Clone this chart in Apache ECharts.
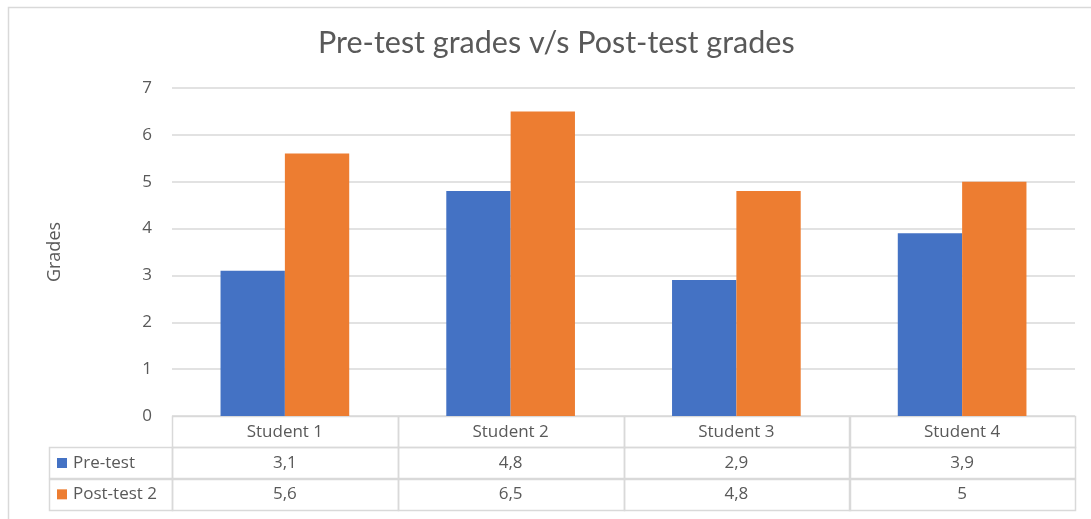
<!DOCTYPE html>
<html>
<head>
<meta charset="utf-8">
<script src="https://cdn.jsdelivr.net/npm/echarts@6/dist/echarts.min.js"></script>
<style>
html,body{margin:0;padding:0;background:#fff;}
#chart{width:1091px;height:519px;}
</style>
</head>
<body>
<div id="chart"></div>
<script>
// ---- data ----
const titleText = 'Pre-test grades v/s Post-test grades';
const yAxisName = 'Grades';
const students = ['Student 1', 'Student 2', 'Student 3', 'Student 4'];
const seriesNames = ['Pre-test', 'Post-test 2'];
const preTest = [3.1, 4.8, 2.9, 3.9];
const postTest = [5.6, 6.5, 4.8, 5];
const yMin = 0, yMax = 7, yStep = 1;

// ---- styles ----
const colors = ['#4472C4', '#ED7D31'];
const textColor = '#595959';
const lineColor = '#d9d9d9';
const font = 'Open Sans';
const legendColW = 123;
const tableFontSize = 17;

const seriesValues = [preTest, postTest];
const fmt = v => String(v).replace('.', ',');

// table cells: row 0 = header, rows 1.. = series; col -1 = legend column
const cells = [];
students.forEach((s, i) => cells.push({col: i, row: 0, text: s}));
seriesValues.forEach((vals, k) => {
  cells.push({col: -1, row: k + 1, text: seriesNames[k], color: colors[k]});
  vals.forEach((v, i) => cells.push({col: i, row: k + 1, text: fmt(v)}));
});

const chart = echarts.init(document.getElementById('chart'));
chart.setOption({
  animation: false,
  backgroundColor: '#fff',
  title: {
    text: titleText, left: 313, top: 23,
    textStyle: {fontFamily: 'Lato', fontWeight: 'normal', fontSize: 30.5, color: textColor}
  },
  graphic: [{
    type: 'rect', silent: true, z: -1,
    shape: {x: 8.5, y: 7.5, width: 1200, height: 600},
    style: {fill: 'none', stroke: lineColor, lineWidth: 1.5}
  }],
  grid: [
    {left: 172, right: 16, top: 88, bottom: 103},
    {left: 172, right: 16, top: 416, bottom: 9}
  ],
  xAxis: [
    {type: 'category', gridIndex: 0, data: students,
     axisLine: {show: false}, axisTick: {show: false}, axisLabel: {show: false}},
    {type: 'category', gridIndex: 1, data: students, show: false}
  ],
  yAxis: [
    {type: 'value', gridIndex: 0, min: yMin, max: yMax, interval: yStep,
     name: yAxisName, nameLocation: 'middle', nameGap: 108,
     nameTextStyle: {color: textColor, fontFamily: font, fontSize: 18},
     axisLine: {show: false}, axisTick: {show: false},
     axisLabel: {color: textColor, fontFamily: font, fontSize: 17, margin: 20},
     splitLine: {lineStyle: {color: lineColor, width: 1.5}}},
    {type: 'category', gridIndex: 1, inverse: true,
     data: ['header'].concat(seriesNames), show: false}
  ],
  series: [
    {type: 'bar', name: seriesNames[0], data: preTest, itemStyle: {color: colors[0]},
     barGap: '0%', barCategoryGap: '43%'},
    {type: 'bar', name: seriesNames[1], data: postTest, itemStyle: {color: colors[1]},
     barGap: '0%', barCategoryGap: '43%'},
    {type: 'custom', xAxisIndex: 1, yAxisIndex: 1, clip: false,
     data: cells.map(c => [Math.max(c.col, 0), c.row]),
     renderItem: function (params, api) {
       const c = cells[params.dataIndex];
       const center = api.coord([Math.max(c.col, 0), c.row]);
       const size = api.size([1, 1]);
       let x0 = center[0] - size[0] / 2, y0 = center[1] - size[1] / 2;
       let w = size[0], h = size[1];
       const children = [];
       const txtFont = tableFontSize + 'px "' + font + '"';
       if (c.col < 0) {
         x0 = x0 - legendColW; w = legendColW;
         children.push({type: 'rect', shape: {x: Math.round(x0) + 0.5, y: Math.round(y0) + 0.5, width: Math.round(w), height: Math.round(h)},
           style: {fill: 'none', stroke: lineColor, lineWidth: 1.5}});
         children.push({type: 'rect', shape: {x: x0 + 8, y: center[1] - 5, width: 10, height: 10},
           style: {fill: c.color}});
         children.push({type: 'text', style: {x: x0 + 24, y: center[1], text: c.text,
           fill: textColor, font: txtFont, align: 'left', verticalAlign: 'middle'}});
       } else {
         children.push({type: 'rect', shape: {x: Math.round(x0) + 0.5, y: Math.round(y0) + 0.5, width: Math.round(w), height: Math.round(h)},
           style: {fill: 'none', stroke: lineColor, lineWidth: 1.5}});
         children.push({type: 'text', style: {x: center[0], y: center[1], text: c.text,
           fill: textColor, font: txtFont, align: 'center', verticalAlign: 'middle'}});
       }
       return {type: 'group', children: children};
     }}
  ]
});
</script>
</body>
</html>
